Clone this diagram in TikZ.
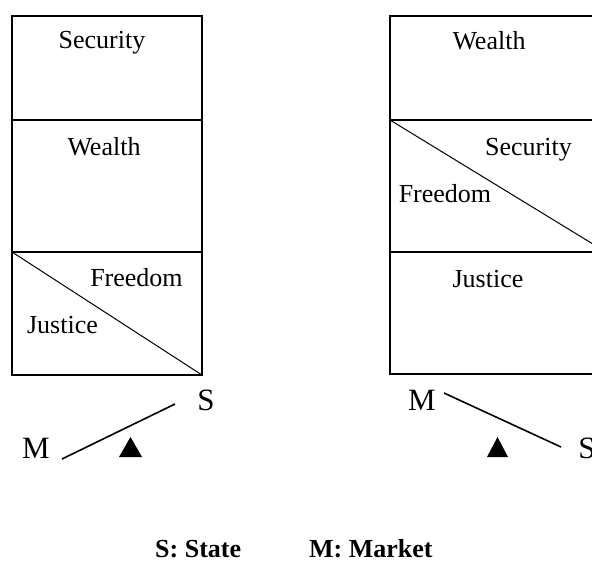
\documentclass[tikz,border=0pt]{standalone}
\usepackage{fontspec}
\setmainfont{Liberation Serif}
\begin{document}
\begin{tikzpicture}[x=1pt,y=-1pt,
  cell/.style={draw,line width=2pt,inner sep=0pt,outer sep=0pt},
  lbl/.style={font=\fontsize{26}{30}\selectfont,anchor=base,inner sep=0pt},
  side/.style={font=\fontsize{31}{36}\selectfont,anchor=base,inner sep=0pt},
  legend/.style={font=\fontsize{26}{30}\selectfont\bfseries,anchor=base west,inner sep=0pt},
  split/.style={line width=1pt},
  beam/.style={line width=1.6pt},
  pivot/.style={fill=black}]
\useasboundingbox (0,0) rectangle (592,565);
\clip (0,0) rectangle (592,565);

% left column of values
\node[cell,minimum width=190pt,minimum height=104pt] (L1) at (107,68) {};
\node[cell,minimum width=190pt,minimum height=132pt] (L2) at (107,186) {};
\node[cell,minimum width=190pt,minimum height=123pt] (L3) at (107,313.5) {};
\draw[split] (L3.north west) -- (L3.south east);
\node[lbl] (lsec) at (102,48) {Security};
\node[lbl] (lwea) at (104,155) {Wealth};
\node[lbl] (lfre) at (136.5,286) {Freedom};
\node[lbl] (ljus) at (62.5,333) {Justice};

% right column of values
\node[cell,minimum width=216pt,minimum height=104pt] (R1) at (498,68) {};
\node[cell,minimum width=216pt,minimum height=132pt] (R2) at (498,186) {};
\node[cell,minimum width=216pt,minimum height=122pt] (R3) at (498,313) {};
\draw[split] (R2.north west) -- (R2.south east);
\node[lbl] (rwea) at (489,49) {Wealth};
\node[lbl] (rsec) at (528.5,155) {Security};
\node[lbl] (rfre) at (445,202) {Freedom};
\node[lbl] (rjus) at (488,287) {Justice};

% left balance: market low, state high
\node[side] (lM) at (36,458) {M};
\node[side] (lS) at (206,410) {S};
\coordinate (lbA) at (62,459);
\coordinate (lbB) at (175,404);
\draw[beam] (lbA) -- (lbB);
\fill[pivot] (119,457) -- (130.5,437) -- (142,457) -- cycle;

% right balance: market high, state low
\node[side] (rM) at (422,410) {M};
\node[side] (rS) at (587,458) {S};
\coordinate (rbA) at (444,393);
\coordinate (rbB) at (561,447);
\draw[beam] (rbA) -- (rbB);
\fill[pivot] (487,457) -- (497.5,437) -- (508,457) -- cycle;

% legend
\node[legend] (keyS) at (155,557) {S: State};
\node[legend] (keyM) at (309,557) {M: Market};
\end{tikzpicture}
\end{document}
